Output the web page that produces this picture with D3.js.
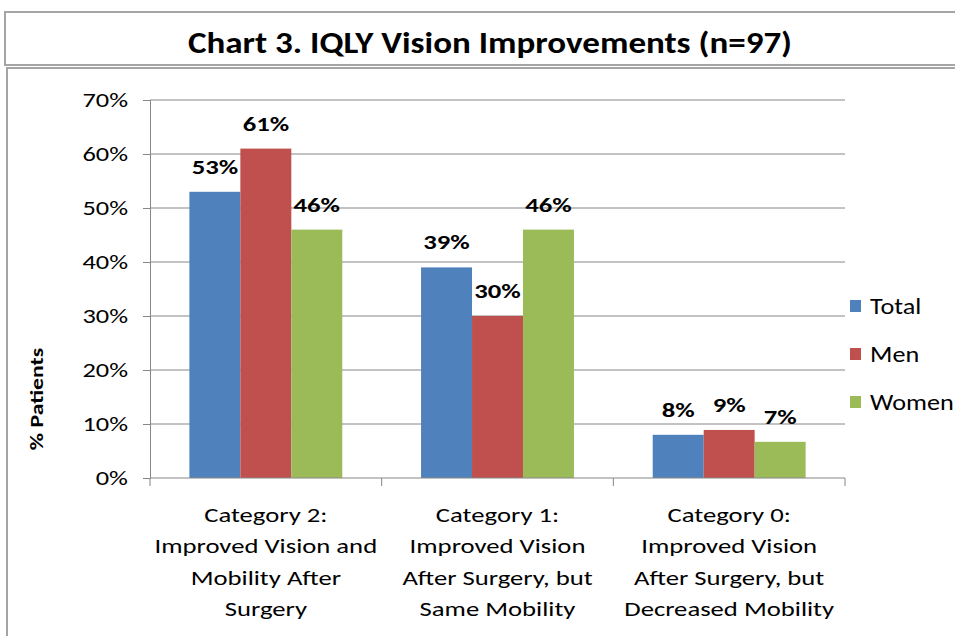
<!DOCTYPE html>
<html>
<head>
<meta charset="utf-8">
<script src="https://cdn.jsdelivr.net/npm/d3@7"></script>
<style>
  body { margin: 0; background: #fff; }
  svg { display: block; font-family: Carlito, Calibri, Lato, sans-serif; }
</style>
</head>
<body>
<svg id="chart"></svg>
<script>
// chart data
const categories = [
  ['Category 2:', 'Improved Vision and', 'Mobility After', 'Surgery'],
  ['Category 1:', 'Improved Vision', 'After Surgery, but', 'Same Mobility'],
  ['Category 0:', 'Improved Vision', 'After Surgery, but', 'Decreased Mobility']
];
const seriesNames = ['Total', 'Men', 'Women'];
const totalValues = [0.53, 0.39, 0.08];
const menValues = [0.61, 0.30, 0.089];
const womenValues = [0.46, 0.46, 0.067];
const yTicks = [0, 0.1, 0.2, 0.3, 0.4, 0.5, 0.6, 0.7];
const colors = ['#4F81BD', '#C0504D', '#9BBB59'];

const width = 955, height = 636;
const margin = { left: 150, right: 110, top: 100, bottom: 158 };
const fmt = d3.format('.0%');

const svg = d3.select('#chart')
  .attr('width', width)
  .attr('height', height);

// frame boxes
svg.append('rect')
  .attr('x', 5).attr('y', 12).attr('width', 970).attr('height', 53)
  .attr('fill', 'none').attr('stroke', '#a5a5a5').attr('stroke-width', 2);
svg.append('rect')
  .attr('x', 7).attr('y', 68).attr('width', 970).attr('height', 600)
  .attr('fill', 'none').attr('stroke', '#a5a5a5').attr('stroke-width', 2);

// the original text is wide and short, so stretch it sideways
svg.append('text')
  .attr('transform', 'translate(490,53) scale(1.13,1)')
  .attr('text-anchor', 'middle')
  .attr('font-size', 31).attr('font-weight', 'bold')
  .attr('fill', '#000')
  .text('Chart 3. IQLY Vision Improvements (n=97)');

const x0 = d3.scaleBand()
  .domain(d3.range(categories.length))
  .range([margin.left, width - margin.right]);

const x1 = d3.scaleBand()
  .domain(seriesNames)
  .range([0, x0.bandwidth() * 0.66]);

const y = d3.scaleLinear()
  .domain([0, 0.7])
  .range([height - margin.bottom, margin.top]);

// gridlines
svg.append('g')
  .selectAll('line')
  .data(yTicks.slice(1))
  .join('line')
  .attr('x1', margin.left).attr('x2', width - margin.right)
  .attr('y1', d => y(d)).attr('y2', d => y(d))
  .attr('stroke', '#868686').attr('stroke-width', 1);

const rows = categories.map((c, i) => ({
  i,
  values: [totalValues[i], menValues[i], womenValues[i]]
}));

const groups = svg.append('g')
  .selectAll('g')
  .data(rows)
  .join('g')
  .attr('transform', d => `translate(${x0(d.i) + (x0.bandwidth() - x1.range()[1]) / 2},0)`);

groups.selectAll('rect')
  .data(d => d.values.map((v, k) => ({ v, k })))
  .join('rect')
  .attr('x', d => x1(seriesNames[d.k]))
  .attr('y', d => y(d.v))
  .attr('width', x1.bandwidth())
  .attr('height', d => y(0) - y(d.v))
  .attr('fill', d => colors[d.k]);

groups.selectAll('text')
  .data(d => d.values.map((v, k) => ({ v, k })))
  .join('text')
  .attr('transform', d => `translate(${x1(seriesNames[d.k]) + x1.bandwidth() / 2},${y(d.v) - 18}) scale(1.3,1)`)
  .attr('text-anchor', 'middle')
  .attr('font-size', 20.5).attr('font-weight', 'bold')
  .attr('fill', '#000')
  .text(d => fmt(d.v));

// y axis
const yAxis = svg.append('g')
  .attr('transform', `translate(${margin.left},0)`)
  .call(d3.axisLeft(y).tickValues(yTicks).tickFormat(fmt).tickSize(7));
yAxis.select('.domain').attr('stroke', '#868686');
yAxis.selectAll('.tick line').attr('stroke', '#868686');
yAxis.selectAll('.tick text')
  .attr('x', 0)
  .attr('transform', 'translate(-22,0) scale(1.32,1)')
  .attr('font-size', 20).attr('fill', '#000')
  .attr('font-family', 'Carlito, Calibri, Lato, sans-serif');

// x axis
const xAxis = svg.append('g')
  .attr('transform', `translate(0,${y(0)})`);
xAxis.append('line')
  .attr('x1', margin.left).attr('x2', width - margin.right)
  .attr('stroke', '#868686');
xAxis.selectAll('.cat-tick')
  .data(d3.range(categories.length + 1))
  .join('line')
  .attr('class', 'cat-tick')
  .attr('x1', d => margin.left + d * x0.bandwidth())
  .attr('x2', d => margin.left + d * x0.bandwidth())
  .attr('y1', 0).attr('y2', 8)
  .attr('stroke', '#868686');

const catLabels = xAxis.selectAll('.cat-label')
  .data(categories)
  .join('text')
  .attr('class', 'cat-label')
  .attr('text-anchor', 'middle')
  .attr('font-size', 21)
  .attr('fill', '#000')
  .attr('transform', (d, i) => `translate(${x0(i) + x0.bandwidth() / 2},44) scale(1.27,1)`);
catLabels.selectAll('tspan')
  .data(d => d)
  .join('tspan')
  .attr('x', 0)
  .attr('y', (d, k) => k * 31.5)
  .text(d => d);

// y axis title
svg.append('text')
  .attr('transform', 'translate(43,399) rotate(-90) scale(1.25,1)')
  .attr('text-anchor', 'middle')
  .attr('font-size', 19).attr('font-weight', 'bold')
  .attr('fill', '#000')
  .text('% Patients');

// legend
const legend = svg.append('g')
  .selectAll('g')
  .data(seriesNames)
  .join('g')
  .attr('transform', (d, i) => `translate(850,${306 + i * 48})`);
legend.append('rect')
  .attr('x', 0).attr('y', -6).attr('width', 11).attr('height', 12)
  .attr('fill', (d, i) => colors[i]);
legend.append('text')
  .attr('transform', 'translate(20,8) scale(1.19,1)')
  .attr('font-size', 22).attr('fill', '#000')
  .text(d => d);
</script>
</body>
</html>
